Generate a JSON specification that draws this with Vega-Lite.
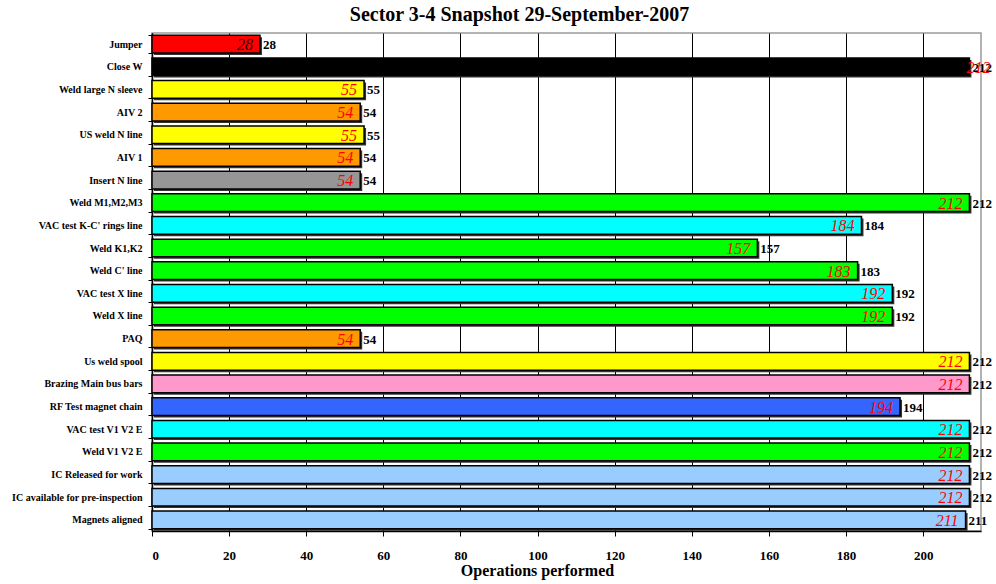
{
  "$schema": "https://vega.github.io/schema/vega-lite/v6.json",
  "width": 829,
  "height": 498,
  "autosize": {"type": "none"},
  "padding": {"left": 152, "top": 33, "right": 15, "bottom": 53},
  "background": "white",
  "config": {"view": {"stroke": "#9a9a9a", "strokeWidth": 1.5}, "font": "Liberation Serif"},
  "title": {"text": "Sector 3-4 Snapshot 29-September-2007", "fontSize": 20, "fontWeight": "bold", "font": "Liberation Serif", "color": "black", "anchor": "middle", "dx": -47, "offset": 3},
  "data": {"values": [
    {"task": "Jumper", "ops": 28, "group": "Jumper"},
    {"task": "Close W", "ops": 212, "group": "Close"},
    {"task": "Weld large N sleeve", "ops": 55, "group": "US weld"},
    {"task": "AIV 2", "ops": 54, "group": "AIV"},
    {"task": "US weld N line", "ops": 55, "group": "US weld"},
    {"task": "AIV 1", "ops": 54, "group": "AIV"},
    {"task": "Insert N line", "ops": 54, "group": "Insert"},
    {"task": "Weld M1,M2,M3", "ops": 212, "group": "Weld"},
    {"task": "VAC test K-C' rings line", "ops": 184, "group": "VAC test"},
    {"task": "Weld K1,K2", "ops": 157, "group": "Weld"},
    {"task": "Weld C' line", "ops": 183, "group": "Weld"},
    {"task": "VAC test X line", "ops": 192, "group": "VAC test"},
    {"task": "Weld X line", "ops": 192, "group": "Weld"},
    {"task": "PAQ", "ops": 54, "group": "AIV"},
    {"task": "Us weld spool", "ops": 212, "group": "US weld"},
    {"task": "Brazing Main bus bars", "ops": 212, "group": "Brazing"},
    {"task": "RF Test magnet chain", "ops": 194, "group": "RF test"},
    {"task": "VAC test V1 V2 E", "ops": 212, "group": "VAC test"},
    {"task": "Weld V1 V2 E", "ops": 212, "group": "Weld"},
    {"task": "IC Released for work", "ops": 212, "group": "Preparation"},
    {"task": "IC available for pre-inspection", "ops": 212, "group": "Preparation"},
    {"task": "Magnets aligned", "ops": 211, "group": "Preparation"}
  ]},
  "encoding": {
    "y": {
      "field": "task", "type": "nominal", "sort": null,
      "scale": {"paddingInner": 0.22, "paddingOuter": 0.1},
      "axis": {"title": null, "labelFont": "Liberation Serif", "labelFontSize": 10, "labelFontWeight": "bold", "labelColor": "black", "labelPadding": 6, "labelLimit": 200, "domainColor": "black", "domainWidth": 1.5, "tickColor": "black", "tickSize": 4, "tickBand": "extent", "grid": false}
    },
    "x": {
      "field": "ops", "type": "quantitative",
      "scale": {"domain": [0, 215], "nice": false},
      "axis": {"title": "Operations performed", "titleFont": "Liberation Serif", "titleFontSize": 16, "titleFontWeight": "bold", "titleColor": "black", "titleX": 385, "titleY": 44, "titleBaseline": "alphabetic", "values": [0, 20, 40, 60, 80, 100, 120, 140, 160, 180, 200], "labelFont": "Liberation Serif", "labelFontSize": 13, "labelFontWeight": "bold", "labelColor": "black", "labelPadding": 13, "grid": true, "gridColor": "black", "gridWidth": 1, "domainColor": "black", "domainWidth": 1.5, "tickColor": "black", "tickSize": 5}
    }
  },
  "layer": [
    {"mark": {"type": "bar", "color": "#333333", "xOffset": 2, "yOffset": 2}},
    {"mark": {"type": "bar", "stroke": "black", "strokeWidth": 1.5},
     "encoding": {"color": {"field": "group", "type": "nominal", "legend": null,
       "scale": {"domain": ["Jumper", "Close", "US weld", "AIV", "Insert", "Weld", "VAC test", "Brazing", "RF test", "Preparation"],
                 "range": ["#ff0000", "#000000", "#ffff00", "#ff9900", "#969696", "#00ff00", "#00ffff", "#ff99cc", "#3366ff", "#99ccff"]}}}},
    {"transform": [{"filter": "datum.group != 'Close'"}],
     "mark": {"type": "text", "font": "Liberation Serif", "fontStyle": "italic", "fontSize": 16, "align": "right", "baseline": "middle", "dx": -7, "dy": 1},
     "encoding": {"text": {"field": "ops", "type": "quantitative"},
       "color": {"condition": {"test": "datum.group == 'Jumper'", "value": "#2a0000"}, "value": "#ff0000"}}},
    {"mark": {"type": "text", "font": "Liberation Serif", "fontSize": 13, "fontWeight": "bold", "color": "black", "align": "left", "baseline": "middle", "dx": 3, "dy": 1},
     "encoding": {"text": {"field": "ops", "type": "quantitative"}}},
    {"transform": [{"filter": "datum.group == 'Close'"}],
     "mark": {"type": "text", "font": "Liberation Serif", "fontStyle": "italic", "fontSize": 16, "color": "#ff0000", "align": "left", "baseline": "middle", "dx": -3, "dy": 1},
     "encoding": {"text": {"field": "ops", "type": "quantitative"}}}
  ]
}
